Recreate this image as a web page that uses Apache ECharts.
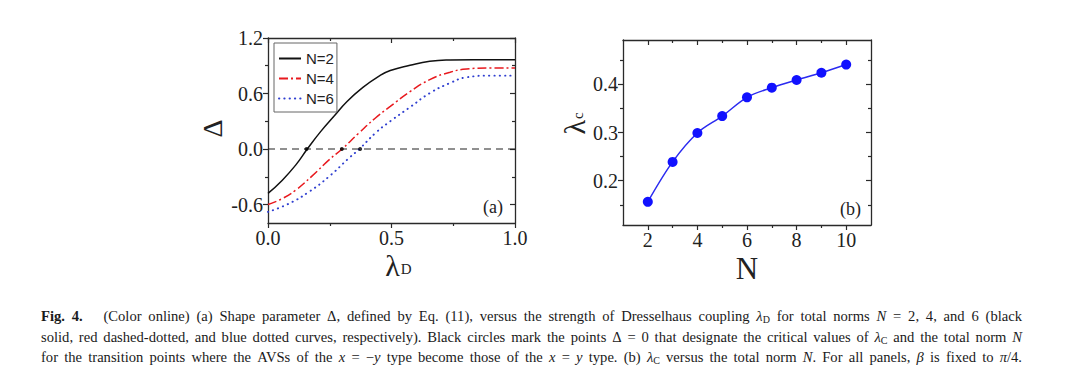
<!DOCTYPE html>
<html>
<head>
<meta charset="utf-8">
<script src="https://cdn.jsdelivr.net/npm/echarts@6/dist/echarts.min.js"></script>
<style>
html,body{margin:0;padding:0;background:#fff;}
#c{width:1080px;height:385px;}
</style>
</head>
<body>
<div id="c"></div>
<script>
// ---------- data ----------
// panel (a): shape parameter Δ versus λD
const deltaN2 = [[0,-0.48],[0.058,-0.337],[0.112,-0.174],[0.159,0],[0.213,0.188],[0.266,0.351],[0.32,0.514],[0.381,0.659],[0.448,0.785],[0.495,0.848],[0.575,0.905],[0.655,0.948],[0.737,0.963],[0.831,0.966],[1.0,0.965]];
const deltaN4 = [[0,-0.6],[0.058,-0.536],[0.112,-0.445],[0.179,-0.29],[0.246,-0.12],[0.30,0],[0.367,0.17],[0.434,0.333],[0.495,0.46],[0.575,0.62],[0.655,0.75],[0.737,0.83],[0.804,0.865],[0.898,0.876],[1.0,0.876]];
const deltaN6 = [[0,-0.68],[0.085,-0.59],[0.166,-0.463],[0.246,-0.30],[0.327,-0.10],[0.37,0],[0.434,0.17],[0.495,0.30],[0.575,0.452],[0.655,0.604],[0.737,0.713],[0.804,0.775],[0.898,0.793],[1.0,0.793]];
const seriesNames = ['N=2','N=4','N=6'];
const zeroLine = [[0,0],[1,0]];
// panel (b): critical λC versus total norm N
const normN = [2,3,4,5,6,7,8,9,10];
const lamC  = [0.156,0.239,0.299,0.334,0.373,0.393,0.409,0.424,0.441];
// zero crossings (black circles) for N = 2, 4, 6
const critPoints = [[lamC[0],0],[lamC[2],0],[lamC[4],0]];
// tick labels
const aXLabels = [0,0.5,1.0],  aXMinor = [0.25,0.75];
const aYLabels = [-0.6,0,0.6,1.2], aYMinor = [-0.3,0.3,0.9];
const bXLabels = [2,4,6,8,10], bXMinor = [3,5,7,9];
const bYLabels = [0.2,0.3,0.4], bYMinor = [0.15,0.25,0.35,0.45];

// ---------- helpers ----------
const SERIF = 'Liberation Serif';
const AXC = '#2a2a2a';
function axes(dim, grid, min, max, major, minor, fmt, nameCfg){
  const mainPos = dim==='x' ? 'bottom' : 'left';
  const oppPos  = dim==='x' ? 'top' : 'right';
  const base = {type:'value', gridIndex:grid, min:min, max:max, splitLine:{show:false}};
  const line = {show:true, onZero:false, lineStyle:{color:AXC, width:1.3}};
  const main = Object.assign({}, base, {
    position: mainPos, axisLine: line, nameMoveOverlap:false,
    axisTick:{show:true, inside:false, length:5, customValues:major, lineStyle:{color:AXC,width:1.2}},
    axisLabel:{show:true, customValues:major, formatter:fmt, margin: dim==='x'?7:5,
      fontFamily:SERIF, fontSize:20, lineHeight:16, color:'#222'}
  }, nameCfg);
  const opp = Object.assign({}, base, {
    position: oppPos, axisLine: line,
    axisTick:{show:true, inside:true, length:5, customValues:major, lineStyle:{color:AXC,width:1.2}},
    axisLabel:{show:false}
  });
  const mainMinor = Object.assign({}, base, {
    position: mainPos, axisLine:{show:false, onZero:false},
    axisTick:{show:true, inside:false, length:3, customValues:minor, lineStyle:{color:AXC,width:1.2}},
    axisLabel:{show:false}
  });
  const oppMinor = Object.assign({}, base, {
    position: oppPos, axisLine:{show:false, onZero:false},
    axisTick:{show:true, inside:true, length:3, customValues:minor, lineStyle:{color:AXC,width:1.2}},
    axisLabel:{show:false}
  });
  return [main, opp, mainMinor, oppMinor];
}
const f1 = v => (Math.round(v*10)/10).toFixed(1);
const fInt = v => String(Math.round(v));

const nameRich = {
  l:{fontFamily:SERIF, fontSize:30, lineHeight:22, color:'#222'},
  s:{fontFamily:SERIF, fontSize:15, lineHeight:22, color:'#222', verticalAlign:'bottom', padding:[0,0,0,1]}
};

const xAxes = [].concat(
  axes('x',0,0,1,aXLabels,aXMinor,f1,{name:'{l|λ}{s|D}', nameLocation:'middle', nameGap:31, nameTextStyle:{rich:nameRich, padding:[0,0,0,14]}}),
  axes('x',1,1,11,bXLabels,bXMinor,fInt,{name:'N', nameLocation:'middle', nameGap:31, nameTextStyle:{fontFamily:SERIF,fontSize:31,lineHeight:24,color:'#222'}})
);
const yAxes = [].concat(
  axes('y',0,-0.8,1.2,aYLabels,aYMinor,f1,{name:'Δ', nameLocation:'middle', nameRotate:90, nameGap:42, nameTextStyle:{fontFamily:SERIF,fontSize:28,color:'#222', padding:[0,0,0,4]}}),
  axes('y',1,0.108,0.492,bYLabels,bYMinor,v=>v.toFixed(1),{name:'{l|λ}{s|c}', nameLocation:'middle', nameRotate:90, nameGap:38, nameTextStyle:{rich:nameRich, padding:[0,0,0,18]}})
);

const lineCommon = {type:'line', xAxisIndex:0, yAxisIndex:0, showSymbol:false, symbol:'none', smooth:0.5, z:3};

const option = {
  backgroundColor:'#fff',
  animation:false,
  grid:[
    {left:268, top:38, width:247, height:185, outerBoundsMode:'none'},
    {left:623, top:40, width:248, height:185, outerBoundsMode:'none'}
  ],
  xAxis:xAxes,
  yAxis:yAxes,
  legend:{
    data:seriesNames, orient:'vertical', left:274, top:43,
    itemWidth:22, itemHeight:12, itemGap:5,
    padding:[8,3,6,4], borderColor:'#666', borderWidth:1, borderRadius:0,
    backgroundColor:'#fff',
    itemStyle:{opacity:0},
    textStyle:{fontFamily:'Liberation Sans', fontSize:15, color:'#222'}
  },
  series:[
    {type:'line', name:'zero', data:zeroLine, xAxisIndex:0, yAxisIndex:0, symbol:'none', silent:true,
      lineStyle:{color:'#222', width:1.2, type:[7,5]}, z:2},
    Object.assign({}, lineCommon, {name:'N=2', data:deltaN2, lineStyle:{color:'#111', width:1.5, type:'solid'}, itemStyle:{color:'#111'}}),
    Object.assign({}, lineCommon, {name:'N=4', data:deltaN4, lineStyle:{color:'#e8191e', width:1.5, type:[9,3,2,3]}, itemStyle:{color:'#e8191e'}}),
    Object.assign({}, lineCommon, {name:'N=6', data:deltaN6, lineStyle:{color:'#2f3fd0', width:1.9, type:[0.3,5], cap:'round'}, itemStyle:{color:'#2f3fd0'}}),
    {type:'scatter', name:'crit', data:critPoints, xAxisIndex:0, yAxisIndex:0, symbol:'circle', symbolSize:4,
      itemStyle:{color:'#000'}, z:5},
    {type:'line', name:'lambdaC', data:normN.map((n,i)=>[n,lamC[i]]), xAxisIndex:4, yAxisIndex:4,
      smooth:0.35, symbol:'circle', symbolSize:10, showSymbol:true,
      lineStyle:{color:'#2b2bf0', width:1.5}, itemStyle:{color:'#1111ff'}, z:3}
  ]
};

// ---------- caption (justified lines) ----------
const capFont = 14.6;
const FQ = '"Liberation Serif", serif';
const capRich = {
  b:{font:'bold ' + capFont + 'px ' + FQ, fill:'#1a1a1a'},
  i:{font:'italic ' + capFont + 'px ' + FQ, fill:'#1a1a1a'},
  s:{font:'10px ' + FQ, fill:'#1a1a1a', verticalAlign:'bottom', lineHeight:17}
};
const capLines = [
  ['{b|Fig.}','{b|4.}',{gap:14},'(Color','online)','(a)','Shape','parameter','Δ,','defined','by','Eq.','(11),','versus','the','strength','of','Dresselhaus','coupling','{i|λ}{s|D}','for','total','norms','{i|N}','=','2,','4,','and','6','(black'],
  ['solid,','red','dashed-dotted,','and','blue','dotted','curves,','respectively).','Black','circles','mark','the','points','Δ','=','0','that','designate','the','critical','values','of','{i|λ}{s|C}','and','the','total','norm','{i|N}'],
  ['for','the','transition','points','where','the','AVSs','of','the','{i|x}','=','−{i|y}','type','become','those','of','the','{i|x}','=','{i|y}','type.','(b)','{i|λ}{s|C}','versus','the','total','norm','{i|N}.','For','all','panels,','{i|β}','is','fixed','to','{i|π}/4.']
];
const capLeft = 41, capRight = 1022, capY = [316, 337, 357];
function wordStyle(w){
  return {text:w, rich:capRich, font: capFont + 'px ' + FQ, fill:'#1a1a1a',
    verticalAlign:'middle', align:'left', lineHeight:17};
}
const graphics = [];
capLines.forEach((words, li) => {
  const items = [];
  let extra = 0, total = 0;
  words.forEach(w => {
    if (typeof w === 'object') { extra += w.gap; items.push(w); return; }
    const t = new echarts.graphic.Text({style: wordStyle(w)});
    const wd = t.getBoundingRect().width;
    total += wd;
    items.push({w, wd});
  });
  const nWords = items.filter(it => it.w !== undefined).length;
  const gap = (capRight - capLeft - total - extra) / (nWords - 1);
  let x = capLeft, first = true;
  items.forEach(it => {
    if (it.gap !== undefined) { x += it.gap; return; }
    if (!first) x += gap;
    first = false;
    graphics.push({type:'text', x:x, y:capY[li], silent:true, style: wordStyle(it.w)});
    x += it.wd;
  });
});
// panel labels
graphics.push({type:'text', x:483, y:207, style:{text:'(a)', font:'18px ' + FQ, fill:'#222', verticalAlign:'middle'}});
graphics.push({type:'text', x:840, y:209, style:{text:'(b)', font:'18px ' + FQ, fill:'#222', verticalAlign:'middle'}});
option.graphic = graphics;

const chart = echarts.init(document.getElementById('c'), null, {renderer:'svg'});
chart.setOption(option);
</script>
</body>
</html>
